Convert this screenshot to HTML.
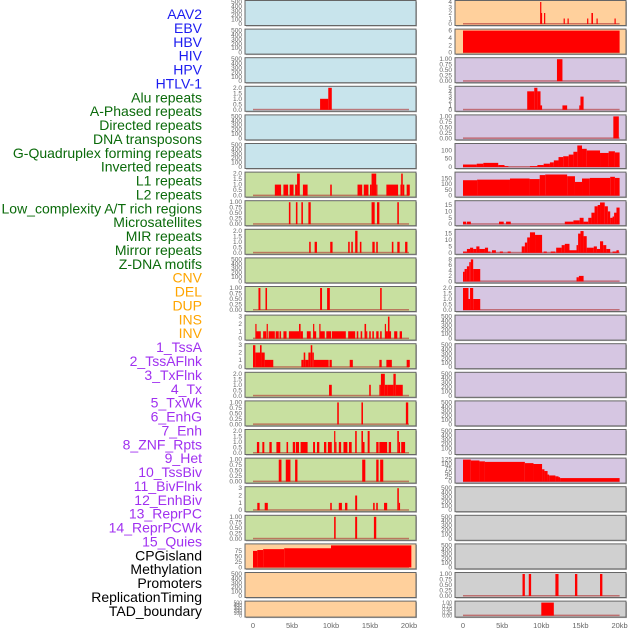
<!DOCTYPE html>
<html><head><meta charset="utf-8"><style>
html,body{margin:0;padding:0;background:#fff;width:630px;height:630px;overflow:hidden}
svg{display:block}
</style></head><body>
<svg id="chart" width="630" height="630" xmlns="http://www.w3.org/2000/svg" font-family="Liberation Sans, sans-serif"></svg>
<script>
const trackLabels=["AAV2","EBV","HBV","HIV","HPV","HTLV-1","Alu repeats","A-Phased repeats","Directed repeats","DNA transposons","G-Quadruplex forming repeats","Inverted repeats","L1 repeats","L2 repeats","Low_complexity A/T rich regions","Microsatellites","MIR repeats","Mirror repeats","Z-DNA motifs","CNV","DEL","DUP","INS","INV","1_TssA","2_TssAFlnk","3_TxFlnk","4_Tx","5_TxWk","6_EnhG","7_Enh","8_ZNF_Rpts","9_Het","10_TssBiv","11_BivFlnk","12_EnhBiv","13_ReprPC","14_ReprPCWk","15_Quies","CPGisland","Methylation","Promoters","ReplicationTiming","TAD_boundary"];
const labelGroups=[6,13,5,15,5];
const groupColors=["#1c1cf0","#0a6a0a","#ffa500","#a030f0","#000000"];
const leftBg=["#c8e4ec","#c8e4ec","#c8e4ec","#c8e4ec","#c8e4ec","#c8e4ec","#c8e0a0","#c8e0a0","#c8e0a0","#c8e0a0","#c8e0a0","#c8e0a0","#c8e0a0","#c8e0a0","#c8e0a0","#c8e0a0","#c8e0a0","#c8e0a0","#c8e0a0","#ffd09c","#ffd09c","#ffd09c"];
const rightBg=["#ffd09c","#ffd09c","#d6c6e2","#d6c6e2","#d6c6e2","#d6c6e2","#d6c6e2","#d6c6e2","#d6c6e2","#d6c6e2","#d6c6e2","#d6c6e2","#d6c6e2","#d6c6e2","#d6c6e2","#d6c6e2","#d6c6e2","#d0d0d0","#d0d0d0","#d0d0d0","#d0d0d0","#d0d0d0"];
const leftYmax=[500,500,500,2,500,500,2,1,2,500,1,3,3,2,1,2,1,3,1,100,500,500];
const rightYmax=[4,6,1,5,1,133,193,17.2,17.2,8,2,500,500,500,500,500,125,500,500,500,1,1];
const leftTicks=[[0,100,200,300,400,500],[0,100,200,300,400,500],[0,100,200,300,400,500],[0,0.5,1,1.5,2],[0,100,200,300,400,500],[0,100,200,300,400,500],[0,0.5,1,1.5,2],[0,0.25,0.5,0.75,1],[0,0.5,1,1.5,2],[0,100,200,300,400,500],[0,0.25,0.5,0.75,1],[0,1,2,3],[0,1,2,3],[0,0.5,1,1.5,2],[0,0.25,0.5,0.75,1],[0,0.5,1,1.5,2],[0,0.25,0.5,0.75,1],[0,1,2,3],[0,0.25,0.5,0.75,1],[0,25,50,75],[0,100,200,300,400,500],[0,100,200,300,400,500]];
const rightTicks=[[0,1,2,3,4],[0,2,4,6],[0,0.25,0.5,0.75,1],[0,1,2,3,4,5],[0,0.25,0.5,0.75,1],[0,50,100],[0,50,100,150],[0,5,10,15],[0,5,10,15],[0,2,4,6,8],[0,0.5,1,1.5,2],[0,100,200,300,400,500],[0,100,200,300,400,500],[0,100,200,300,400,500],[0,100,200,300,400,500],[0,100,200,300,400,500],[0,25,50,75,100,125],[0,100,200,300,400,500],[0,100,200,300,400,500],[0,100,200,300,400,500],[0,0.25,0.5,0.75,1],[0,0.25,0.5,0.75,1]];
const leftData=[[],[],[],
[[8.6,9.65,1],[9.65,10.1,2]],
[],[],
[[2.8,3.6,1],[3.9,4.5,1],[4.7,5.2,1],[5.4,5.65,1],[5.65,6.0,2],[6.4,7.0,1],[9.9,10.1,1],[13.4,14.0,1],[14.2,14.8,1],[15.0,15.2,1],[15.2,15.8,2],[15.8,15.9,1],[17.1,18.6,1],[18.9,19.0,1],[19.0,19.2,2],[19.2,19.4,1],[19.7,20.1,1]],
[[4.6,4.8,1],[5.5,5.7,1],[6.2,6.4,1],[7.1,7.4,1],[15.2,15.6,1],[15.9,16.2,1],[18.5,18.7,1]],
[[7.2,7.4,1],[7.9,8.2,1],[9.9,10.2,1],[12.2,12.4,1],[12.6,12.8,1],[13.1,13.4,2],[13.7,13.9,1],[15.3,15.6,1],[15.8,16.0,1],[17.8,18.0,1],[18.5,18.8,1],[19.5,19.8,1]],
[],
[[0.7,0.95,1],[1.6,1.8,1],[8.6,8.85,1],[9.5,9.85,1],[16.3,16.5,1]],
[[0.3,0.45,2],[0.45,1.0,1],[1.3,1.7,1],[1.75,1.85,2],[2.0,2.8,1],[2.9,3.3,1],[3.4,3.6,1],[3.9,4.3,1],[4.6,5.9,1],[5.9,6.1,2],[6.1,6.4,1],[6.9,7.4,1],[7.7,7.8,2],[7.8,8.1,1],[8.5,8.65,2],[8.65,9.2,1],[9.4,10.0,1],[10.1,11.9,1],[12.2,13.1,1],[13.3,13.5,1],[13.8,14.0,1],[14.3,14.5,2],[14.5,14.6,1],[14.9,15.1,1],[15.3,15.5,1],[15.8,16.1,1],[16.3,16.5,1],[16.9,17.0,2],[17.0,17.3,1],[17.3,17.5,3],[17.5,17.7,1],[18.1,18.5,1],[18.8,19.1,1]],
[[0,0.3,3],[0.3,0.9,2],[0.9,1.1,3],[1.1,1.5,2],[1.5,2.6,1],[6.2,6.5,1],[6.5,6.7,2],[6.7,7.1,1],[7.1,7.4,2],[7.4,7.6,3],[7.6,7.8,2],[7.8,9.7,1],[9.8,10.1,1],[12.4,12.8,1],[16.2,16.5,1],[17.1,17.8,1],[19.7,20.1,1]],
[[9.75,10.1,1],[14.9,15.1,1],[16.2,16.4,1],[16.4,16.9,2],[16.9,17.2,1],[17.2,18.0,1],[18.0,18.3,2],[18.3,19.2,1]],
[[10.8,11.0,1],[13.9,14.1,1],[19.6,19.9,1]],
[[0.5,0.8,1],[1.2,1.45,1],[2.1,2.4,1],[3.0,3.5,1],[4.3,4.5,1],[5.1,5.4,1],[5.5,5.9,1],[6.1,7.0,1],[7.7,7.95,1],[8.2,8.5,1],[9.1,9.4,1],[9.6,10.1,1],[10.4,10.55,2],[10.55,10.7,1],[11.0,11.3,1],[11.6,12.1,1],[12.3,12.65,1],[13.1,13.3,2],[13.9,14.1,2],[14.1,14.3,1],[14.7,14.95,2],[15.8,16.1,1],[16.2,17.2,1],[17.4,17.7,1],[18.5,18.7,2],[18.7,18.8,1],[19.0,19.5,1]],
[[3.3,3.65,1],[4.2,4.8,1],[5.4,5.7,1],[14.0,14.4,1],[15.8,16.1,1],[16.3,16.7,1]],
[[0.55,0.85,1],[1.5,1.9,1],[9.9,10.1,1],[11.0,11.4,1],[11.8,12.1,1],[13.1,13.35,2],[15.4,15.6,1],[15.8,16.0,1],[16.8,17.2,1],[18.5,18.7,3],[18.7,18.8,1]],
[[10.4,10.6,1],[13.1,13.35,1],[15.5,15.8,1]],
[[0,0.55,75],[0.55,1.3,79],[1.3,4.0,83],[4.0,10.0,87],[10.0,20.3,100]],
[],[]];
const rightData=[
[[9.85,9.95,4],[9.95,10.0,2],[10.35,10.5,2],[12.85,13.0,1],[13.35,13.5,1],[15.85,16.0,1],[16.4,16.6,2],[17.05,17.2,1],[19.35,19.5,1]],
[[0,20,6]],
[[12.0,12.7,1]],
[[8.2,9.1,4.2],[9.1,9.5,5],[9.5,9.9,4.2],[9.9,10.1,1],[12.7,13.3,1],[14.85,15.0,1],[15.0,15.4,3]],
[[19.2,19.9,1]],
[[0,1.75,15],[1.75,2.6,20],[2.6,4.5,25],[4.5,5.3,12],[5.3,5.8,5],[8.55,9.5,5],[9.5,10.3,12],[10.3,11.1,20],[11.1,11.6,28],[11.6,12.2,40],[12.2,12.8,60],[12.8,13.5,65],[13.5,14.1,75],[14.1,14.6,92],[14.6,15.2,130],[15.2,15.8,110],[15.8,17.5,100],[17.5,18.6,85],[18.6,19.4,95],[19.4,20,88]],
[[0,1.8,135],[1.8,6.0,140],[6.0,8.5,150],[8.5,9.8,145],[9.8,10.5,180],[10.5,13.3,185],[13.3,14.3,170],[14.3,15.2,120],[15.2,16.2,150],[16.2,18.8,155],[18.8,19.4,165],[19.4,20,155]],
[[0,0.4,2],[0.5,1.0,2],[4.6,5.2,2],[5.5,6.1,2],[13.0,14.1,2],[14.1,14.9,3],[14.9,15.4,5],[15.4,16.0,2],[16.0,16.4,5],[16.4,16.8,9],[16.8,17.2,14],[17.2,17.5,15],[17.5,18.1,17],[18.1,18.5,14],[18.5,18.8,10],[18.8,19.1,5],[19.1,19.3,6],[19.3,19.6,9],[19.6,20,13]],
[[0,0.5,1],[0.5,0.9,3],[0.9,1.3,4],[1.3,1.7,3],[1.7,2.1,5],[2.1,2.8,3],[2.8,3.2,4],[3.2,3.5,1],[3.7,4.2,2],[4.7,5.1,1],[5.7,6.1,1],[7.5,7.9,5],[7.9,8.2,8],[8.2,8.55,12],[8.55,9.2,16],[9.2,10.1,14],[10.3,10.7,1],[11.2,11.8,1],[11.9,12.6,4],[12.6,13.0,6],[13.0,13.6,7],[13.6,14.5,2],[14.5,14.7,6],[14.7,15.0,15],[15.0,15.4,17],[15.4,15.8,13],[15.8,16.7,4],[16.7,17.1,5],[17.1,17.5,3],[17.5,17.9,9],[17.9,18.3,6],[18.3,18.8,3],[19.1,19.6,1],[19.6,19.9,2]],
[[0,0.2,3.5],[0.2,0.5,4.5],[0.5,0.8,5.5],[0.8,1.0,7],[1.0,1.3,8],[1.3,2.2,4.5],[14.5,14.8,1.5],[14.8,15.4,2]],
[[0,0.7,2],[0.7,0.9,1],[0.9,1.3,2],[1.3,2.2,1]],
[],[],[],[],[],
[[0,1.0,125],[1.0,2.1,120],[2.1,2.8,115],[2.8,7.9,112],[7.9,9.0,105],[9.0,10.1,100],[10.1,10.4,70],[10.4,10.8,60],[10.8,11.0,40],[11.0,11.8,35],[11.8,12.2,30],[12.2,12.4,25],[12.4,20,20]],
[],[],[],
[[7.6,7.9,1],[8.4,8.7,1],[11.8,12.2,1],[14.3,14.6,1],[17.5,17.8,1]],
[[10.0,11.6,1]]];
const xTicks=[0,5,10,15,20];
const xTickLabels=["0","5kb","10kb","15kb","20kb"];

const NS="http://www.w3.org/2000/svg";
const svg=document.getElementById('chart');
function mk(tag,attrs,parent){const e=document.createElementNS(NS,tag);for(const k in attrs)e.setAttribute(k,attrs[k]);(parent||svg).appendChild(e);return e;}
function fmt(v,ticks){const mx=Math.max(...ticks);if(mx===1)return v.toFixed(2);if(mx===2)return v.toFixed(1);return String(v);}

// labels
let gi=0,cnt=0;
trackLabels.forEach((t,i)=>{
  while(cnt>=labelGroups[gi]){cnt=0;gi++;}
  cnt++;
  const e=mk('text',{x:202,y:14+i*13.88+5,'text-anchor':'end','font-size':'14',fill:groupColors[gi]});
  e.textContent=t;
  
  
});

function panel(side,i,bg,ymax,ticks,data){
  const x0=side==='left'?245:455, x1=side==='left'?416:626;
  const z0=side==='left'?253:463, kbw=side==='left'?7.8:7.83;
  const top=0.5+i*28.6, h=(i===21?16:25), bot=top+h;
  const g=mk('g',{});
  
  
  mk('rect',{x:x0+1,y:top+1,width:x1-x0,height:h,fill:'#aaa'},g);
  mk('rect',{x:x0,y:top,width:x1-x0,height:h,fill:bg,stroke:'#666','stroke-width':1},g);
  const yz=bot-1.5, yt=top+1.5;
  const ys=v=>yz-(v/ymax)*(yz-yt);
  const xs=k=>z0+k*kbw;
  ticks.forEach(v=>{
    const t=mk('text',{x:x0-3,y:ys(v)+2,'text-anchor':'end','font-size':(i===21?'5':'6.5'),fill:'#666'},g);
    t.textContent=fmt(v,ticks);
    
    
  });
  if(data.length){
    mk('rect',{x:xs(0),y:yz-1,width:xs(20)-xs(0),height:1.5,fill:'#b03030',opacity:0.6},g);
  }
  data.forEach(s=>{
    const r=mk('rect',{x:xs(s[0]),y:ys(s[2]),width:Math.max(1.2,xs(s[1])-xs(s[0])),height:yz-ys(s[2]),fill:'#ff0000'},g);
    
    
  });
}
for(let i=0;i<22;i++){
  panel('left',i,leftBg[i],leftYmax[i],leftTicks[i],leftData[i]);
  panel('right',i,rightBg[i],rightYmax[i],rightTicks[i],rightData[i]);
}
['left','right'].forEach(side=>{
  const z0=side==='left'?253:463, kbw=side==='left'?7.8:7.83;
  xTicks.forEach((k,j)=>{
    const t=mk('text',{x:z0+k*kbw,y:628,'text-anchor':'middle','font-size':'7.5',fill:'#666'});
    t.textContent=xTickLabels[j];
    
    
  });
});
</script>
</body></html>
